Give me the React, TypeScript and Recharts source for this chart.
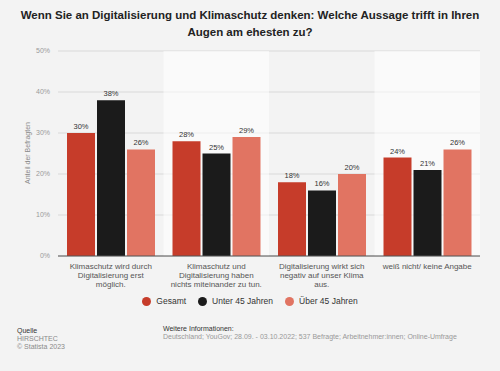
import React from "react";
import { BarChart, Bar, XAxis, YAxis, CartesianGrid, LabelList, ReferenceArea } from "recharts";

const categories = ["c1", "c2", "c3", "c4"];
const categoryLines = [
  ["Klimaschutz wird durch", "Digitalisierung erst", "möglich."],
  ["Klimaschutz und", "Digitalisierung haben", "nichts miteinander zu tun."],
  ["Digitalisierung wirkt sich", "negativ auf unser Klima", "aus."],
  ["weiß nicht/ keine Angabe"],
];
const gesamt = [30, 28, 18, 24];
const unter45 = [38, 25, 16, 21];
const ueber45 = [26, 29, 20, 26];
const yTicks = [0, 10, 20, 30, 40, 50];
// every second category gets a lighter band
const lightBands = ["c2", "c4"];

const series = [
  { key: "gesamt", label: "Gesamt", color: "#c63c2a" },
  { key: "unter45", label: "Unter 45 Jahren", color: "#1b1b1b" },
  { key: "ueber45", label: "Über 45 Jahren", color: "#e17462" },
];

const FONT = '"Liberation Sans", Arial, Helvetica, sans-serif';

const chartData = categories.map((name, i) => ({
  name,
  gesamt: gesamt[i],
  unter45: unter45[i],
  ueber45: ueber45[i],
}));

function CategoryTick({ x, y, payload }: any) {
  const lines = categoryLines[categories.indexOf(payload.value)] || [];
  return (
    <text x={x} y={y + 5} textAnchor="middle" fontSize={8} fill="#555" fontFamily={FONT}>
      {lines.map((l, i) => (
        <tspan key={i} x={x} dy={i === 0 ? 0 : 9}>
          {l}
        </tspan>
      ))}
    </text>
  );
}

export default function App() {
  return (
    <div
      style={{
        position: "relative",
        width: 500,
        height: 371,
        background: "#f3f3f3",
        fontFamily: FONT,
        overflow: "hidden",
      }}
    >
      <style>{`body{margin:0}`}</style>
      <div
        style={{
          position: "absolute",
          top: 7,
          left: 0,
          width: 500,
          textAlign: "center",
          fontSize: 11.5,
          fontWeight: "bold",
          lineHeight: "17px",
          color: "#222",
        }}
      >
        Wenn Sie an Digitalisierung und Klimaschutz denken: Welche Aussage trifft in Ihren
        <br />
        Augen am ehesten zu?
      </div>

      <div style={{ position: "absolute", top: 0, left: 0 }}>
        <BarChart
          width={500}
          height={320}
          data={chartData}
          margin={{ top: 51, right: 20, bottom: 24, left: 0 }}
          barCategoryGap={9}
          barGap={2}
        >
          <CartesianGrid vertical={false} stroke="#d9d9d9" />
          {lightBands.map((b) => (
            <ReferenceArea
              key={b}
              x1={b}
              x2={b}
              y1={0}
              y2={50}
              fill="#ffffff"
              fillOpacity={0.55}
              stroke="none"
            />
          ))}
          <XAxis
            dataKey="name"
            tick={<CategoryTick />}
            tickLine={false}
            axisLine={{ stroke: "#555" }}
            height={40}
            interval={0}
          />
          <YAxis
            domain={[0, 50]}
            ticks={yTicks}
            tickFormatter={(v) => `${v}%`}
            tick={{ fontSize: 7, fill: "#9a9a9a", fontFamily: FONT }}
            tickLine={false}
            axisLine={false}
            width={58}
          />
          {series.map((s) => (
            <Bar key={s.key} dataKey={s.key} fill={s.color} isAnimationActive={false}>
              <LabelList
                dataKey={s.key}
                position="top"
                offset={4}
                formatter={(v: any) => `${v}%`}
                style={{ fontSize: 7.5, fill: "#333", fontFamily: FONT }}
              />
            </Bar>
          ))}
        </BarChart>
      </div>

      <div
        style={{
          position: "absolute",
          left: 27,
          top: 153,
          transform: "translate(-50%, -50%) rotate(-90deg)",
          fontSize: 7,
          color: "#8a8a8a",
          whiteSpace: "nowrap",
        }}
      >
        Anteil der Befragten
      </div>

      <div
        style={{
          position: "absolute",
          top: 295,
          left: 0,
          width: 500,
          display: "flex",
          justifyContent: "center",
          gap: 12,
          fontSize: 8.5,
          color: "#333",
          lineHeight: "12px",
        }}
      >
        {series.map((s) => (
          <span key={s.key} style={{ display: "flex", alignItems: "center", gap: 5 }}>
            <span
              style={{
                display: "inline-block",
                width: 9,
                height: 9,
                borderRadius: "50%",
                background: s.color,
              }}
            />
            {s.label}
          </span>
        ))}
      </div>

      <div style={{ position: "absolute", left: 17, top: 327, fontSize: 7, lineHeight: "8px" }}>
        <div style={{ color: "#333" }}>Quelle</div>
        <div style={{ color: "#8a8a8a" }}>HIRSCHTEC</div>
        <div style={{ color: "#8a8a8a" }}>© Statista 2023</div>
      </div>
      <div style={{ position: "absolute", left: 163, top: 325, fontSize: 7, lineHeight: "8px" }}>
        <div style={{ color: "#333" }}>Weitere Informationen:</div>
        <div style={{ color: "#999" }}>
          Deutschland; YouGov; 28.09. - 03.10.2022; 537 Befragte; Arbeitnehmer:innen; Online-Umfrage
        </div>
      </div>
    </div>
  );
}
